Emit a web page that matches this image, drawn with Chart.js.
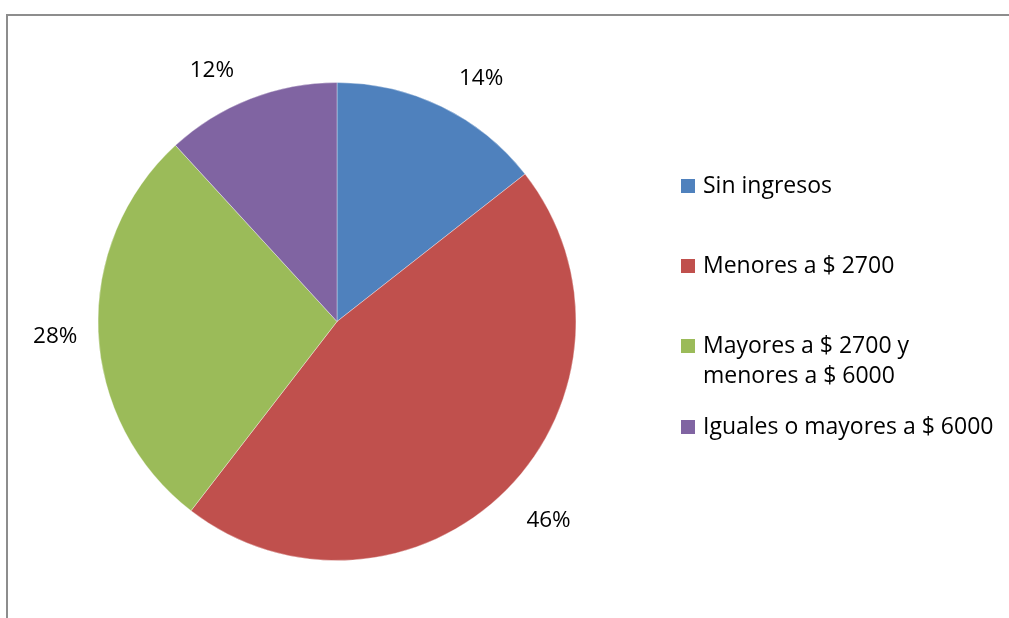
<!DOCTYPE html>
<html>
<head>
<meta charset="utf-8">
<script src="https://cdn.jsdelivr.net/npm/chart.js@4.4.1/dist/chart.umd.min.js"></script>
<style>
  html, body { margin: 0; padding: 0; background: #fff; }
  #wrap { position: relative; width: 1009px; height: 618px; overflow: hidden; }
  #frame { position: absolute; left: 6px; top: 14px; width: 1100px; height: 700px;
           border-top: 2px solid #8d8d8d; border-left: 2px solid #8d8d8d; box-sizing: border-box; }
  #c { position: absolute; left: 0; top: 0; }
  #legend { position: absolute; left: 0; top: 0; font-family: "Open Sans", Lato, sans-serif;
            font-size: 23px; color: #000; }
  .item { position: absolute; left: 681px; white-space: nowrap; line-height: 30px; }
  .sw { position: absolute; left: 0; width: 14px; height: 14px; }
  .txt { position: absolute; left: 22px; top: 0; }
</style>
</head>
<body>
<div id="wrap">
  <div id="frame"></div>
  <canvas id="c" width="1009" height="618"></canvas>
  <div id="legend"></div>
</div>
<script>
const categories = ["Sin ingresos", "Menores a $ 2700", "Mayores a $ 2700 y menores a $ 6000", "Iguales o mayores a $ 6000"];
const legendLines = [["Sin ingresos"], ["Menores a $ 2700"], ["Mayores a $ 2700 y", "menores a $ 6000"], ["Iguales o mayores a $ 6000"]];
const values = [14.4, 46.0, 27.7, 11.8];
const colors = ["#4F81BD", "#C0504D", "#9BBB59", "#8064A2"];

const outsideLabels = {
  id: 'outsideLabels',
  afterDatasetsDraw(chart) {
    const ctx = chart.ctx;
    const meta = chart.getDatasetMeta(0);
    const total = values.reduce((a, b) => a + b, 0);
    ctx.save();
    ctx.font = '22.5px "Open Sans", Lato, sans-serif';
    ctx.fillStyle = '#000';
    ctx.textAlign = 'center';
    ctx.textBaseline = 'middle';
    meta.data.forEach((arc, i) => {
      const p = arc.getProps(['x', 'y', 'startAngle', 'endAngle', 'outerRadius'], true);
      const mid = (p.startAngle + p.endAngle) / 2;
      const s = Math.cos(mid);   // horizontal component
      const c = Math.sin(mid);   // vertical component (down positive)
      const R = p.outerRadius + 33 + 10 * s * s;
      const x = p.x + R * s + 30 * Math.sign(s) * c * c;
      const y = p.y + R * c + 3.5;
      const pct = Math.round(values[i] / total * 100) + '%';
      ctx.fillText(pct, x, y);
    });
    ctx.restore();
  }
};

new Chart(document.getElementById('c'), {
  type: 'pie',
  data: {
    labels: categories,
    datasets: [{
      data: values,
      backgroundColor: colors,
      borderColor: 'rgba(255,255,255,0.35)',
      borderWidth: 1
    }]
  },
  options: {
    responsive: false,
    animation: false,
    layout: { padding: { left: 97, right: 432, top: 82, bottom: 57 } },
    plugins: {
      legend: { display: false },
      tooltip: { enabled: false }
    }
  },
  plugins: [outsideLabels]
});

// HTML legend
const legendTops = [169, 249, 329, 410];
const legend = document.getElementById('legend');
legendLines.forEach((lines, i) => {
  const item = document.createElement('div');
  item.className = 'item';
  item.style.top = legendTops[i] + 'px';
  const sw = document.createElement('div');
  sw.className = 'sw';
  sw.style.background = colors[i];
  sw.style.top = '10px';
  const t = document.createElement('div');
  t.className = 'txt';
  t.innerHTML = lines.map(l => l.replace(/&/g, '&amp;')).join('<br>');
  item.appendChild(sw);
  item.appendChild(t);
  legend.appendChild(item);
});
</script>
</body>
</html>
